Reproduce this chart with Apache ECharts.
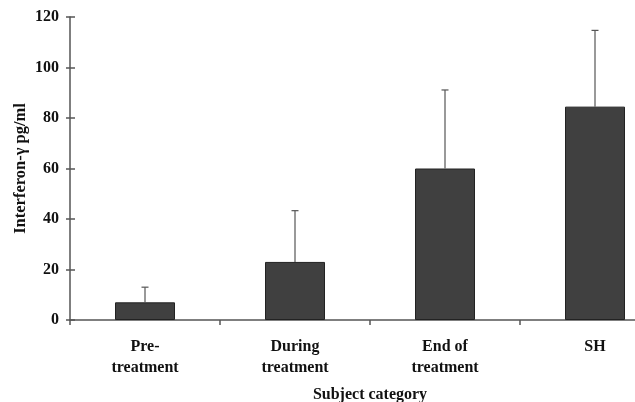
<!DOCTYPE html>
<html>
<head>
<meta charset="utf-8">
<script src="https://cdn.jsdelivr.net/npm/echarts@6/dist/echarts.min.js"></script>
<style>
  html, body { margin: 0; padding: 0; background: #fff; }
  #chart { width: 635px; height: 402px; }
</style>
</head>
<body>
<div id="chart"></div>
<script>
// Interferon-γ levels by subject category (mean with upper SD bar)
const categories = ['Pre-\ntreatment', 'During\ntreatment', 'End of\ntreatment', 'SH'];
const meanValues = [7, 23, 60, 84.5];
const sdValues = [6, 20.3, 31.1, 30.2];
const yTicks = { min: 0, max: 120, interval: 20 };

const font = '"Liberation Serif", "Times New Roman", serif';
const axisColor = '#555';

const chart = echarts.init(document.getElementById('chart'));

const errorData = meanValues.map((m, i) => [i, m, m + sdValues[i]]);

chart.setOption({
  backgroundColor: '#fff',
  animation: false,
  grid: { left: 70, top: 17, width: 600, height: 303, outerBoundsMode: 'none', containLabel: false },
  xAxis: {
    type: 'category',
    data: categories,
    boundaryGap: true,
    axisLine: { lineStyle: { color: axisColor, width: 1.5 } },
    axisTick: { show: true, length: 5, lineStyle: { color: axisColor, width: 1.5 } },
    axisLabel: {
      color: '#111', fontFamily: font, fontWeight: 'bold', fontSize: 16,
      lineHeight: 21, margin: 16
    },
    name: 'Subject category',
    nameLocation: 'middle',
    nameGap: 67,
    nameMoveOverlap: false,
    nameTextStyle: { color: '#111', fontFamily: font, fontWeight: 'bold', fontSize: 16 }
  },
  yAxis: [
    {
      type: 'value',
      min: yTicks.min, max: yTicks.max, interval: yTicks.interval,
      axisLine: { show: true, lineStyle: { color: axisColor, width: 1.5 } },
      axisTick: { show: true, length: 4, lineStyle: { color: axisColor, width: 1.5 } },
      splitLine: { show: false },
      axisLabel: {
        color: '#111', fontFamily: font, fontWeight: 'bold', fontSize: 16, margin: 11
      },
      name: 'Interferon-γ pg/ml',
      nameLocation: 'middle',
      nameGap: 41,
      nameMoveOverlap: false,
      nameTextStyle: { color: '#111', fontFamily: font, fontWeight: 'bold', fontSize: 16.5 }
    },
    {
      // inner half of the y-axis tick marks
      type: 'value',
      position: 'left',
      min: yTicks.min, max: yTicks.max, interval: yTicks.interval,
      axisLine: { show: false },
      axisTick: { show: true, inside: true, length: 5, lineStyle: { color: axisColor, width: 1.5 } },
      axisLabel: { show: false },
      splitLine: { show: false }
    }
  ],
  series: [
    {
      type: 'bar',
      data: meanValues,
      barWidth: '40%',
      itemStyle: { color: '#404040', borderColor: '#222', borderWidth: 1 },
      z: 2
    },
    {
      type: 'custom',
      data: errorData,
      z: 3,
      renderItem: function (params, api) {
        const base = api.coord([api.value(0), api.value(1)]);
        const top = api.coord([api.value(0), api.value(2)]);
        const half = 3.5;
        const style = { stroke: '#555', lineWidth: 1.2 };
        return {
          type: 'group',
          children: [
            { type: 'line', shape: { x1: base[0], y1: base[1], x2: top[0], y2: top[1] }, style: style },
            { type: 'line', shape: { x1: top[0] - half, y1: top[1], x2: top[0] + half, y2: top[1] }, style: style }
          ]
        };
      }
    }
  ]
});
</script>
</body>
</html>
